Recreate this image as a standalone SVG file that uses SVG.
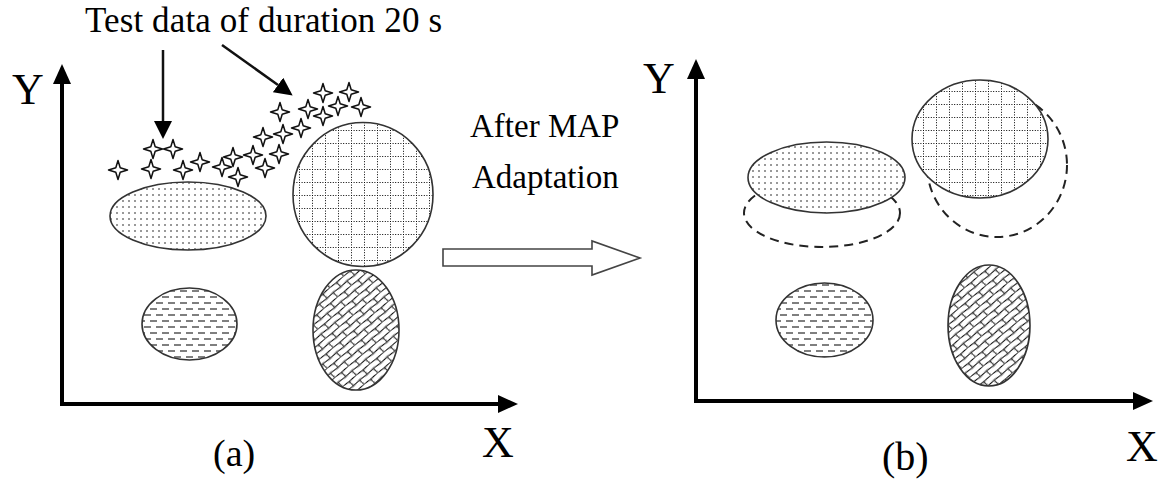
<svg xmlns="http://www.w3.org/2000/svg" xmlns:xlink="http://www.w3.org/1999/xlink" width="1164" height="482" viewBox="0 0 1164 482">
<style>
  text { font-family: "Liberation Serif", "Times New Roman", serif; fill: #000; }
  .axis { stroke: #000; stroke-width: 4; fill: none; }
  .pointer { stroke: #111; stroke-width: 2.5; fill: none; }
  .shape { stroke: #333; stroke-width: 1.6; }
  .old { fill: none; stroke: #222; stroke-width: 2; stroke-dasharray: 9 6; }
  .star { fill: #fff; stroke: #111; stroke-width: 1.5; stroke-linejoin: round; }
</style>
<defs>
  <marker id="axhead" viewBox="0 0 20 18" refX="0" refY="9" markerWidth="20" markerHeight="18" markerUnits="userSpaceOnUse" orient="auto">
    <path d="M0,0 L20,9 L0,18 z" fill="#000"/>
  </marker>
  <marker id="ptrhead" viewBox="0 0 18 18" refX="0" refY="9" markerWidth="18" markerHeight="18" markerUnits="userSpaceOnUse" orient="auto">
    <path d="M0,0 L18,9 L0,18 z" fill="#000"/>
  </marker>
  <pattern id="dots" width="6" height="6" patternUnits="userSpaceOnUse">
    <rect width="6" height="6" fill="#fff"/>
    <circle cx="3" cy="3" r="0.75" fill="#000"/>
  </pattern>
  <pattern id="grid" width="13" height="13" patternUnits="userSpaceOnUse">
    <rect width="13" height="13" fill="#fff"/>
    <path d="M0,0.5 H13 M0.5,0 V13" stroke="#000" stroke-width="1" stroke-dasharray="1 1.6"/>
  </pattern>
  <pattern id="dashes" width="12" height="12" patternUnits="userSpaceOnUse">
    <rect width="12" height="12" fill="#fff"/>
    <path d="M0,3 H7 M6,9 H12 M0,9 H1" stroke="#000" stroke-width="1.1"/>
  </pattern>
  <pattern id="shingle" width="18" height="12" patternUnits="userSpaceOnUse" patternTransform="rotate(-40)">
    <rect width="18" height="12" fill="#fff"/>
    <path d="M0,0.5 C4.5,2 13.5,-1 18,0.5 M0,6.5 C4.5,8 13.5,5 18,6.5 M4.5,0.5 C3,2.5 6,4.5 4.5,6.5 M13.5,6.5 C12,8.5 15,10.5 13.5,12.5" stroke="#000" stroke-width="1" fill="none"/>
  </pattern>
  <path id="star" d="M0,-9.5 L2.2,-2.2 L9.5,0 L2.2,2.2 L0,9.5 L-2.2,2.2 L-9.5,0 L-2.2,-2.2 Z"/>
</defs>
<rect width="1164" height="482" fill="#fff"/>

<g id="connectors">
  <line class="axis" x1="62" y1="406" x2="62" y2="84" marker-end="url(#axhead)"/>
  <line class="axis" x1="60" y1="404" x2="498" y2="404" marker-end="url(#axhead)"/>
  <line class="axis" x1="696" y1="403" x2="696" y2="79" marker-end="url(#axhead)"/>
  <line class="axis" x1="694" y1="401" x2="1133" y2="401" marker-end="url(#axhead)"/>
  <line class="pointer" x1="163" y1="50" x2="163" y2="121" marker-end="url(#ptrhead)"/>
  <line class="pointer" x1="222" y1="45" x2="278" y2="85" marker-end="url(#ptrhead)"/>
  <polygon id="adapt-arrow" points="443,249 592,249 592,241 640,258 592,275 592,266 443,266" fill="#fff" stroke="#444" stroke-width="1.6"/>
</g>

<g id="labels">
  <text x="85" y="32" font-size="35" textLength="357">Test data of duration 20 s</text>
  <text x="470" y="137" font-size="33">After MAP</text>
  <text x="472" y="188" font-size="33">Adaptation</text>
  <text x="12" y="104" font-size="44">Y</text>
  <text x="482" y="457" font-size="44">X</text>
  <text x="213" y="466" font-size="38">(a)</text>
  <text x="643" y="93" font-size="44">Y</text>
  <text x="1126" y="461" font-size="44">X</text>
  <text x="882" y="470" font-size="40">(b)</text>
</g>

<g id="panel-a">
  <g id="a-dots"><ellipse class="shape" cx="188" cy="216" rx="78" ry="34" fill="url(#dots)"/></g>
  <g id="a-grid"><ellipse class="shape" cx="363" cy="194.5" rx="70" ry="72" fill="url(#grid)"/></g>
  <g id="a-dashes"><ellipse class="shape" cx="189.5" cy="324" rx="47.5" ry="36" fill="url(#dashes)"/></g>
  <g id="a-shingle"><ellipse class="shape" cx="356" cy="330" rx="43" ry="60" fill="url(#shingle)"/></g>
  <g id="test-data">
    <use href="#star" class="star" x="118" y="170"/>
    <use href="#star" class="star" x="153" y="149"/>
    <use href="#star" class="star" x="173" y="149"/>
    <use href="#star" class="star" x="151" y="169"/>
    <use href="#star" class="star" x="183" y="170"/>
    <use href="#star" class="star" x="200" y="162"/>
    <use href="#star" class="star" x="222" y="167"/>
    <use href="#star" class="star" x="233" y="157"/>
    <use href="#star" class="star" x="238" y="177"/>
    <use href="#star" class="star" x="253" y="155"/>
    <use href="#star" class="star" x="265" y="168"/>
    <use href="#star" class="star" x="263" y="137"/>
    <use href="#star" class="star" x="279" y="154"/>
    <use href="#star" class="star" x="283" y="134"/>
    <use href="#star" class="star" x="280" y="112"/>
    <use href="#star" class="star" x="301" y="128"/>
    <use href="#star" class="star" x="308" y="109"/>
    <use href="#star" class="star" x="323" y="93"/>
    <use href="#star" class="star" x="323" y="116"/>
    <use href="#star" class="star" x="338" y="106"/>
    <use href="#star" class="star" x="349" y="92"/>
    <use href="#star" class="star" x="361" y="107"/>
  </g>
</g>

<g id="panel-b">
  <g id="b-dots-old"><ellipse class="old" cx="822" cy="213" rx="78" ry="34"/></g>
  <g id="b-dots"><ellipse class="shape" cx="826.5" cy="177.5" rx="78.5" ry="35.5" fill="url(#dots)"/></g>
  <g id="b-grid-old"><ellipse class="old" cx="997" cy="165" rx="70" ry="72"/></g>
  <g id="b-grid"><ellipse class="shape" cx="980" cy="139" rx="68" ry="59" fill="url(#grid)"/></g>
  <g id="b-dashes"><ellipse class="shape" cx="824.5" cy="320" rx="48.5" ry="37" fill="url(#dashes)"/></g>
  <g id="b-shingle"><ellipse class="shape" cx="989" cy="325.5" rx="41" ry="60.5" fill="url(#shingle)"/></g>
</g>
</svg>
